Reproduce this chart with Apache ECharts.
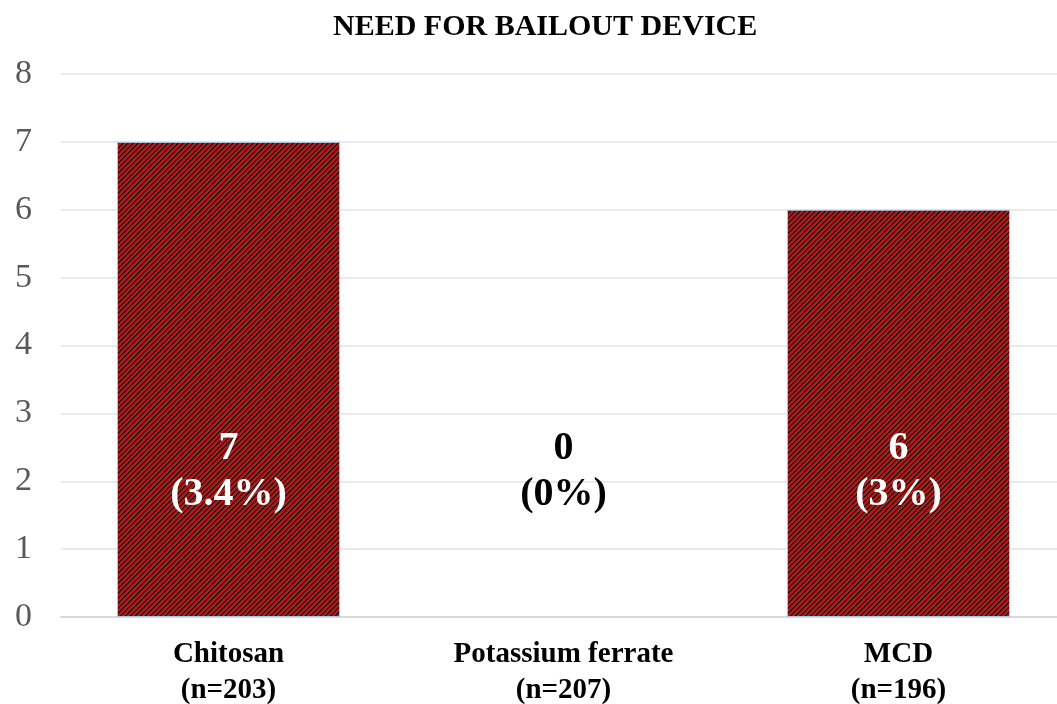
<!DOCTYPE html>
<html>
<head>
<meta charset="utf-8">
<script src="https://cdn.jsdelivr.net/npm/echarts@6/dist/echarts.min.js"></script>
<style>
html,body{margin:0;padding:0;background:#fff;}
#chart{width:1057px;height:704px;}
</style>
</head>
<body>
<div id="chart"></div>
<script>
const categories = ['Chitosan\n(n=203)', 'Potassium ferrate\n(n=207)', 'MCD\n(n=196)'];
const counts = [7, 0, 6];
const percentLabels = ['3.4%', '0%', '3%'];
const yTicks = [0, 1, 2, 3, 4, 5, 6, 7, 8];

const SERIF = "'Times New Roman', 'Liberation Serif', 'DejaVu Serif', serif";

function makePattern() {
  const p = 5;
  const c = document.createElement('canvas');
  c.width = p; c.height = p;
  const ctx = c.getContext('2d');
  const img = ctx.createImageData(p, p);
  for (let y = 0; y < p; y++) {
    for (let x = 0; x < p; x++) {
      const k = (x + y) % p;
      let r = 170, g = 28, b = 26;
      if (k === 0) { r = 14; g = 4; b = 4; }
      else if (k === 1) { r = 100; g = 16; b = 14; }
      const i = (y * p + x) * 4;
      img.data[i] = r; img.data[i + 1] = g; img.data[i + 2] = b; img.data[i + 3] = 255;
    }
  }
  ctx.putImageData(img, 0, 0);
  return c;
}

const chart = echarts.init(document.getElementById('chart'));
const pattern = { image: makePattern(), repeat: 'repeat' };

chart.setOption({
  animation: false,
  backgroundColor: '#fff',
  title: {
    text: 'NEED FOR BAILOUT DEVICE',
    left: 328,
    top: 7,
    textStyle: { fontFamily: SERIF, fontWeight: 'bold', fontSize: 30, color: '#000' }
  },
  grid: { left: 61, top: 74, width: 1005, height: 543, containLabel: false, outerBoundsMode: 'none' },
  xAxis: {
    type: 'category',
    data: categories,
    axisLine: { show: true, lineStyle: { color: '#d4d4d4', width: 1.5 } },
    axisTick: { show: false },
    axisLabel: {
      margin: 20,
      fontFamily: SERIF, fontWeight: 'bold', fontSize: 29, color: '#000', lineHeight: 36
    }
  },
  yAxis: {
    type: 'value',
    min: yTicks[0],
    max: yTicks[yTicks.length - 1],
    interval: 1,
    axisLine: { show: false },
    axisTick: { show: false },
    splitLine: { lineStyle: { color: '#e3e3e3', width: 1.5 } },
    axisLabel: {
      margin: 29,
      fontFamily: SERIF, fontSize: 34, color: '#595959'
    }
  },
  series: [{
    type: 'bar',
    barWidth: '66.6%',
    data: counts.map((v, i) => ({
      value: v,
      itemStyle: { borderWidth: v > 0 ? 1 : 0 },
      label: { color: v > 0 ? '#ffffff' : '#000000' }
    })),
    itemStyle: { color: pattern, borderColor: '#a9c8e4', borderWidth: 1 },
    label: {
      show: true,
      position: 'insideBottom',
      distance: 99,
      fontFamily: SERIF, fontWeight: 'bold', fontSize: 40, lineHeight: 46,
      formatter: (p) => counts[p.dataIndex] + '\n(' + percentLabels[p.dataIndex] + ')'
    }
  }]
});
</script>
</body>
</html>
